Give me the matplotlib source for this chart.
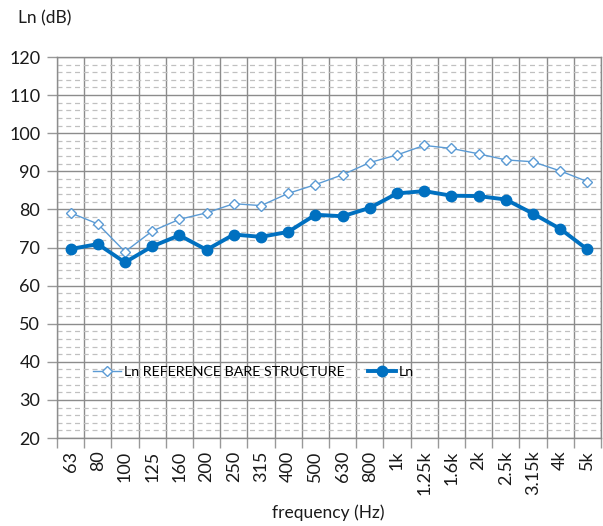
import matplotlib
matplotlib.use("Agg")
import matplotlib.pyplot as plt
import numpy as np

categories = ["63", "80", "100", "125", "160", "200", "250", "315", "400", "500",
              "630", "800", "1k", "1.25k", "1.6k", "2k", "2.5k", "3.15k", "4k", "5k"]
ref_values = [79.1, 76.2, 68.9, 74.3, 77.4, 79.1, 81.5, 81.0, 84.2, 86.5,
              89.1, 92.3, 94.3, 96.8, 96.0, 94.6, 93.0, 92.5, 90.1, 87.3]
ln_values = [69.6, 70.9, 66.1, 70.3, 73.2, 69.4, 73.4, 72.8, 74.1, 78.6,
             78.2, 80.4, 84.2, 84.8, 83.6, 83.5, 82.6, 78.9, 74.9, 69.5]
ref_label = "Ln REFERENCE BARE STRUCTURE"
ln_label = "Ln"

plt.rcParams['font.family'] = ['Lato', 'DejaVu Sans']

fig = plt.figure(figsize=(6.03, 5.26), dpi=100)
ax = fig.add_axes([0.0945, 0.1673, 0.9022, 0.7243])

x = np.arange(len(categories))
ax.plot(x, ref_values, color='#5B9BD5', lw=1.0, marker='D', markersize=5.5,
        markerfacecolor='white', markeredgecolor='#5B9BD5', markeredgewidth=1.0,
        label=ref_label, zorder=3)
ax.plot(x, ln_values, color='#0070C0', lw=2.8, marker='o', markersize=7.5,
        markerfacecolor='#0070C0', markeredgecolor='#0070C0',
        label=ln_label, zorder=4)

ax.set_xlim(-0.5, len(categories) - 0.5)
ax.set_ylim(20, 120)
ax.set_yticks(np.arange(20, 121, 10))
ax.set_yticks(np.arange(20, 121, 2), minor=True)
ax.set_xticks(x)
ax.set_xticklabels(categories, rotation=90, fontsize=13, color='#1a1a1a')
ax.set_xticks(np.arange(-0.5, len(categories), 1), minor=True)

ax.tick_params(axis='x', which='major', length=0, pad=9)
ax.tick_params(axis='x', which='minor', length=7, color='#999999', width=1)
ax.tick_params(axis='y', which='major', length=7, color='#999999', width=1,
               labelsize=13, labelcolor='#1a1a1a', pad=5)
ax.tick_params(axis='y', which='minor', length=0)

ax.grid(True, axis='y', which='major', color='#8c8c8c', lw=1.0, ls='-')
ax.grid(True, axis='y', which='minor', color='#c0c0c0', lw=0.9, ls=(0, (4, 3)))
ax.grid(True, axis='x', which='minor', color='#8c8c8c', lw=1.0, ls='-')
ax.grid(False, axis='x', which='major')
ax.set_axisbelow(True)

for s in ax.spines.values():
    s.set_color('#8c8c8c')
    s.set_linewidth(1.0)

fig.text(0.03, 0.965, "Ln (dB)", fontsize=12.5, color='#1a1a1a', ha='left', va='center')
fig.text(0.545, 0.025, "frequency (Hz)", fontsize=12.5, color='#1a1a1a', ha='center', va='center')

leg = ax.legend(loc='center left', bbox_to_anchor=(0.055, 0.173), ncol=2, frameon=False,
                fontsize=10.3, handlelength=2.0, handletextpad=0.2, columnspacing=1.6,
                borderaxespad=0)

fig.savefig("out.png", dpi=100)
